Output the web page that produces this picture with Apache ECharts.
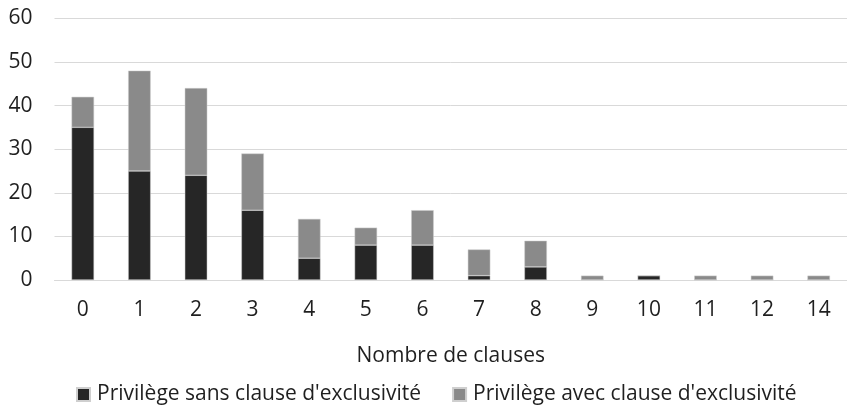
<!DOCTYPE html>
<html>
<head>
<meta charset="utf-8">
<script src="https://cdn.jsdelivr.net/npm/echarts@6/dist/echarts.min.js"></script>
<style>html,body{margin:0;padding:0;background:#fff}#c{width:847px;height:408px}</style>
</head>
<body>
<div id="c"></div>
<script>
const categories = ['0','1','2','3','4','5','6','7','8','9','10','11','12','14'];
const sansClause = [35, 25, 24, 16, 5, 8, 8, 1, 3, 0, 1, 0, 0, 0];
const avecClause = [7, 23, 20, 13, 9, 4, 8, 6, 6, 1, 0, 1, 1, 1];
const yTicks = { min: 0, max: 60, interval: 10 };
const seriesNames = ["Privilège sans clause d'exclusivité", "Privilège avec clause d'exclusivité"];
const axisTitle = 'Nombre de clauses';

const FONT = 'Open Sans';
const TXT = '#1f1f1f';
const chart = echarts.init(document.getElementById('c'), null, { renderer: 'canvas' });
chart.setOption({
  animation: false,
  backgroundColor: '#ffffff',
  textStyle: { fontFamily: FONT },
  grid: { left: 54.5, top: 18.3, width: 798, bottom: 128, containLabel: false },
  xAxis: {
    type: 'category',
    data: categories,
    axisLine: { show: true, lineStyle: { color: '#d9d9d9', width: 1 } },
    axisTick: { show: false },
    axisLabel: { color: TXT, fontFamily: FONT, fontSize: 21, margin: 20 },
    name: axisTitle,
    nameLocation: 'middle',
    nameGap: 66,
    nameTextStyle: { color: TXT, fontFamily: FONT, fontSize: 21 }
  },
  yAxis: {
    type: 'value',
    min: yTicks.min, max: yTicks.max, interval: yTicks.interval,
    axisLine: { show: false },
    axisTick: { show: false },
    splitLine: { show: true, lineStyle: { color: '#d9d9d9', width: 1 } },
    axisLabel: { color: TXT, fontFamily: FONT, fontSize: 21, margin: 22 }
  },
  legend: {
    data: seriesNames,
    left: 71, top: 379,
    icon: 'rect',
    itemWidth: 13, itemHeight: 13,
    itemGap: 31,
    textStyle: { color: TXT, fontFamily: FONT, fontSize: 21, lineHeight: 21, padding: [0,0,0,2] }
  },
  series: [
    {
      name: seriesNames[0], type: 'bar', stack: 'total', data: sansClause,
      barWidth: 22.5,
      itemStyle: { color: '#262626', borderColor: '#cfcfcf', borderWidth: 0.5 }
    },
    {
      name: seriesNames[1], type: 'bar', stack: 'total', data: avecClause,
      barWidth: 22.5,
      itemStyle: { color: '#8a8a8a', borderColor: '#cfcfcf', borderWidth: 0.5 }
    }
  ]
});
</script>
</body>
</html>
